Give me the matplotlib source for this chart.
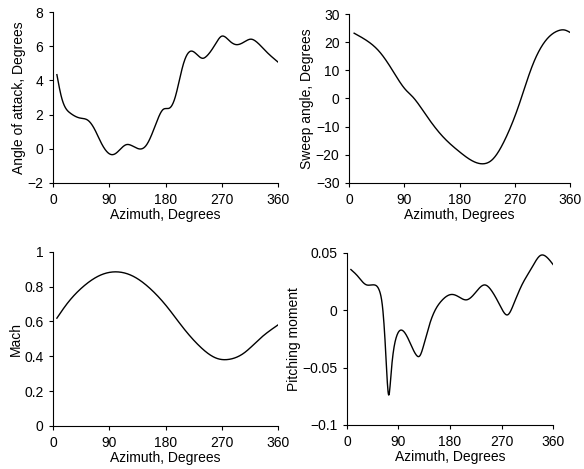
import matplotlib
matplotlib.use('Agg')
import matplotlib.pyplot as plt
import numpy as np

plt.rcParams['font.family'] = 'Liberation Sans'
plt.rcParams['font.size'] = 10

# Angle of attack vs azimuth
aoa_az = [6, 13, 27, 43, 56, 67, 77, 93, 99, 117, 125, 141, 149, 165, 176, 187, 195,
          208, 219, 224, 240, 245, 261, 269, 283, 293, 307, 317, 325, 341, 360]
aoa_val = [4.34, 3.07, 2.1, 1.8, 1.66, 1.1, 0.34, -0.34, -0.3, 0.24, 0.2, -0.01, 0.2,
           1.5, 2.3, 2.4, 2.97, 4.9, 5.7, 5.7, 5.3, 5.4, 6.2, 6.58, 6.3, 6.1, 6.28,
           6.42, 6.28, 5.7, 5.08]

# Sweep angle vs azimuth
sweep_az = [8, 27, 49, 70, 92, 103, 125, 152, 179, 206, 219, 233, 254, 276, 298,
            319, 341, 352, 360]
sweep_val = [23.2, 20.8, 16.7, 10.2, 3.1, 0.7, -5.8, -13.4, -18.8, -22.7, -23.2,
             -21.8, -14.6, -2.8, 11.3, 20.2, 24.1, 24.3, 23.5]

# Mach vs azimuth
mach_az = [6, 21, 48, 75, 102, 128, 155, 182, 209, 235, 262, 283, 305, 332, 360]
mach_val = [0.619, 0.696, 0.80, 0.865, 0.885, 0.86, 0.79, 0.686, 0.56, 0.456,
            0.388, 0.383, 0.417, 0.504, 0.58]

# Pitching moment vs azimuth
pm_az = [7, 19, 33, 48, 57, 63, 68, 73, 77, 86, 98, 109, 121, 127, 136, 148, 165,
         183, 194, 209, 224, 241, 253, 268, 281, 291, 306, 323, 338, 347, 360]
pm_val = [0.0354, 0.0296, 0.0223, 0.022, 0.0167, -0.001, -0.039, -0.074, -0.056,
          -0.024, -0.018, -0.027, -0.039, -0.040, -0.027, -0.007, 0.008, 0.0137,
          0.012, 0.009, 0.015, 0.022, 0.0167, 0.0035, -0.004, 0.005, 0.0224, 0.037,
          0.0477, 0.047, 0.0398]

xticks = [0, 90, 180, 270, 360]
M = '\u2212'


def smooth(x, y, n=600):
    # natural cubic spline through the read points
    x = np.asarray(x, float)
    y = np.asarray(y, float)
    N = len(x)
    h = np.diff(x)
    A = np.zeros((N, N))
    r = np.zeros(N)
    A[0, 0] = 1
    A[-1, -1] = 1
    for i in range(1, N - 1):
        A[i, i - 1] = h[i - 1]
        A[i, i] = 2 * (h[i - 1] + h[i])
        A[i, i + 1] = h[i]
        r[i] = 6 * ((y[i + 1] - y[i]) / h[i] - (y[i] - y[i - 1]) / h[i - 1])
    c = np.linalg.solve(A, r)
    xs = np.linspace(x[0], x[-1], n)
    k = np.clip(np.searchsorted(x, xs) - 1, 0, N - 2)
    a = x[k + 1] - xs
    b = xs - x[k]
    hk = h[k]
    ys = (c[k] * a**3 + c[k + 1] * b**3) / (6 * hk) \
        + (y[k] / hk - c[k] * hk / 6) * a + (y[k + 1] / hk - c[k + 1] * hk / 6) * b
    return xs, ys


fig = plt.figure(figsize=(5.84, 4.69), dpi=100)

panels = [
    ([0.091, 0.610, 0.385, 0.364], aoa_az, aoa_val, (-2, 8), [-2, 0, 2, 4, 6, 8],
     'Angle of attack, Degrees'),
    ([0.598, 0.610, 0.378, 0.360], sweep_az, sweep_val, (-30, 30),
     [-30, -20, -10, 0, 10, 20, 30], 'Sweep angle, Degrees'),
    ([0.091, 0.092, 0.385, 0.371], mach_az, mach_val, (0, 1),
     [0, 0.2, 0.4, 0.6, 0.8, 1], 'Mach'),
    ([0.594, 0.094, 0.353, 0.367], pm_az, pm_val, (-0.1, 0.05),
     [-0.1, -0.05, 0, 0.05], 'Pitching moment'),
]

for rect, xs, ys, ylim, yt, ylab in panels:
    ax = fig.add_axes(rect)
    sx, sy = smooth(xs, ys)
    ax.plot(sx, sy, color='black', lw=1.0)
    ax.set_xlim(0, 360)
    ax.set_ylim(*ylim)
    ax.set_xticks(xticks)
    ax.set_yticks(yt)
    ax.set_yticklabels([('%g' % v).replace('-', M) for v in yt])
    ax.spines['top'].set_visible(False)
    ax.spines['right'].set_visible(False)
    ax.spines['left'].set_linewidth(0.8)
    ax.spines['bottom'].set_linewidth(0.8)
    ax.tick_params(direction='out', length=3, width=0.8, pad=4, labelsize=10)
    ax.set_xlabel('Azimuth, Degrees', fontsize=10, labelpad=1)
    ax.set_ylabel(ylab, fontsize=10, labelpad=1)

fig.savefig('out.png', dpi=100)
